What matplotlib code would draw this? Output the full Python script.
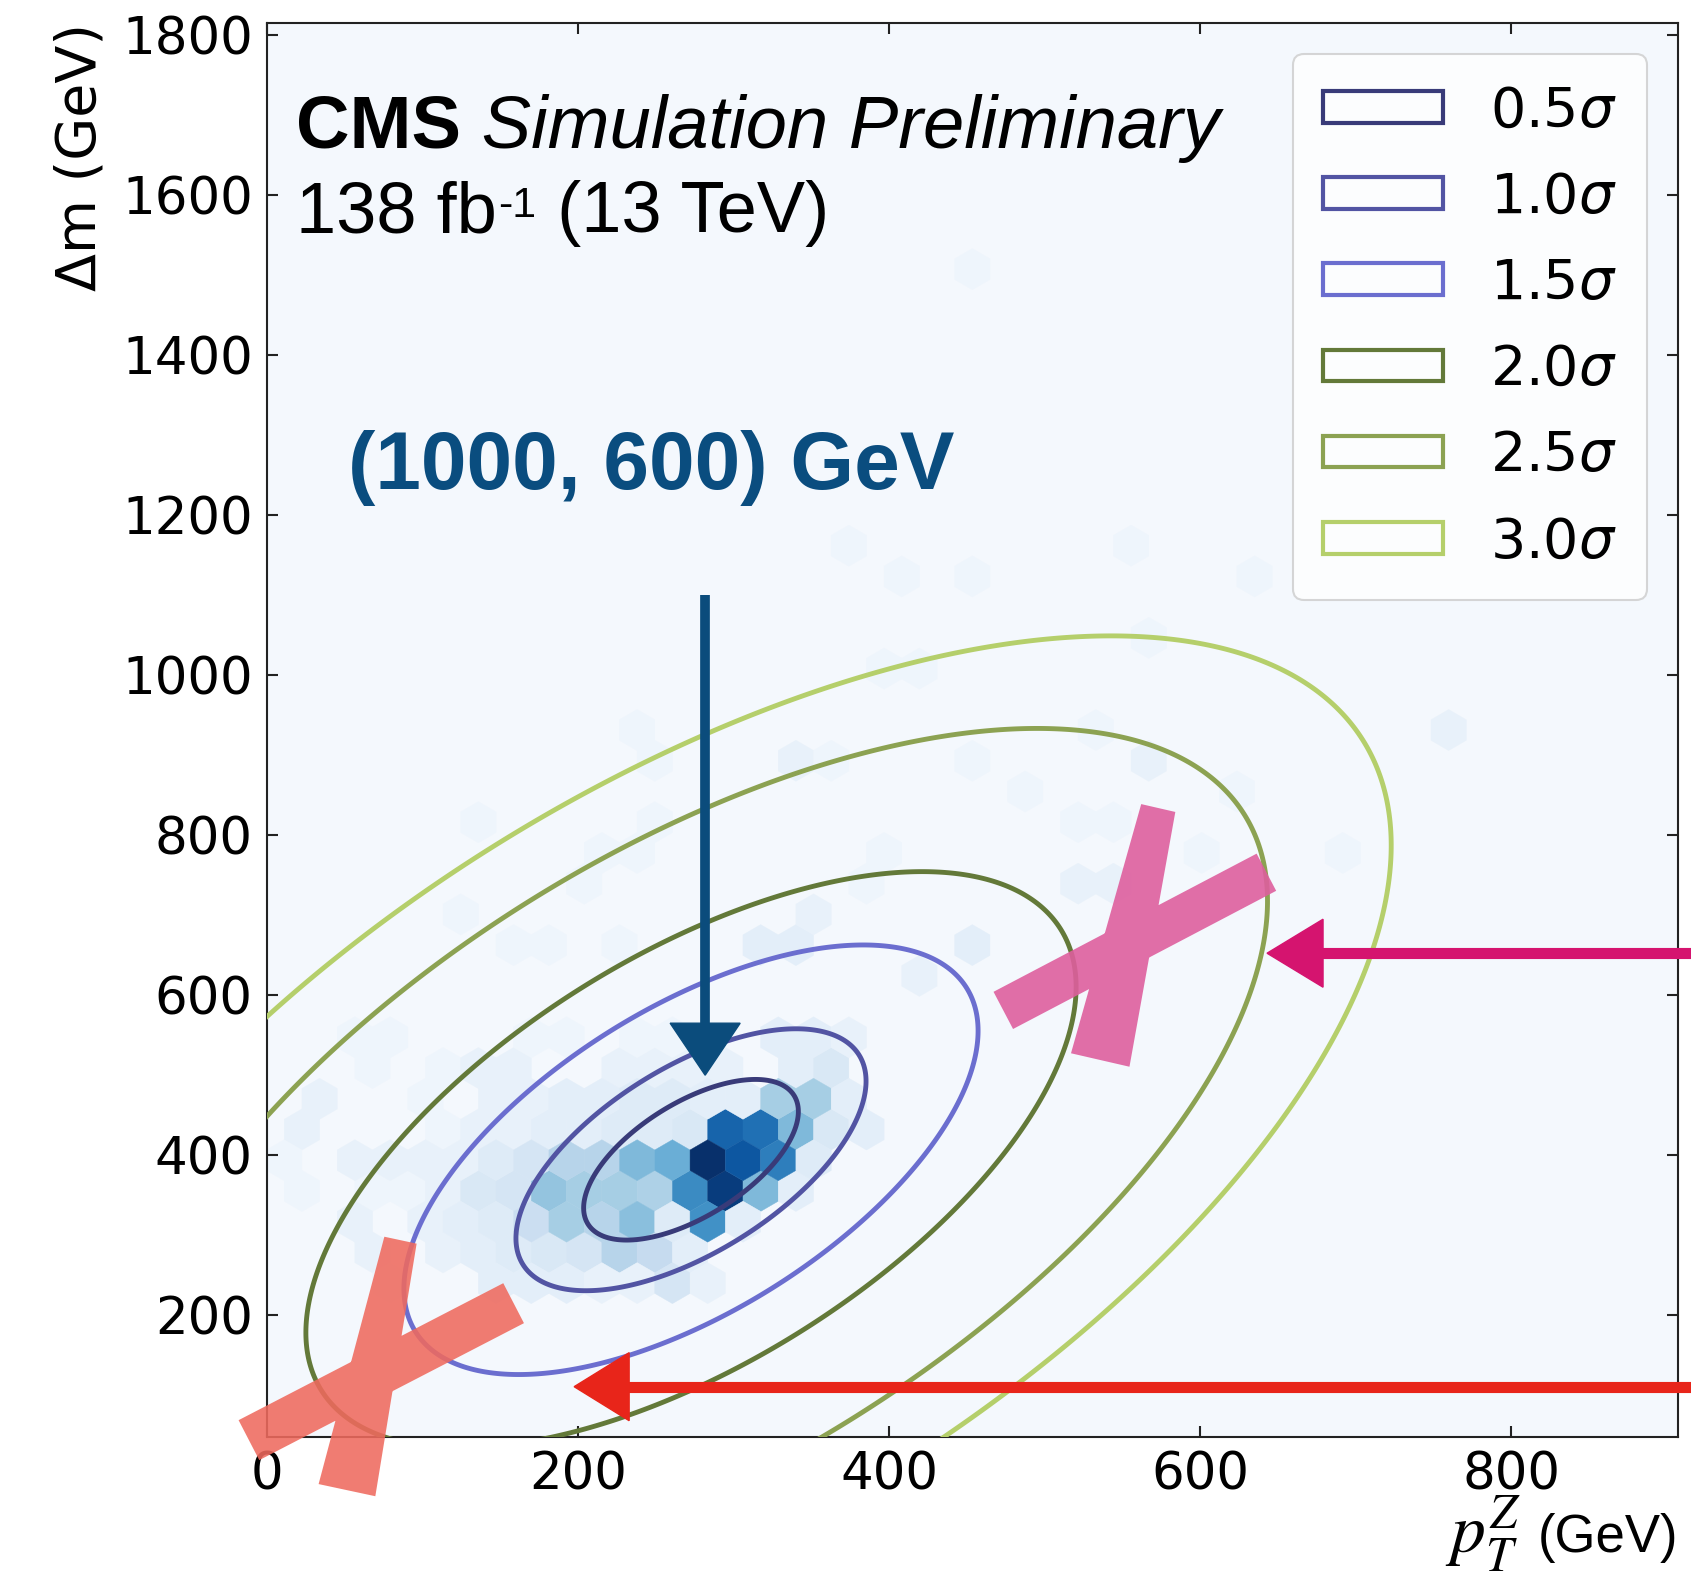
import numpy as np
import matplotlib
matplotlib.use("Agg")
import matplotlib.pyplot as plt
from matplotlib.patches import Patch, PathPatch, Polygon
from matplotlib.path import Path
from matplotlib.font_manager import FontProperties

# signal sample (1000, 600) GeV: occupied hexbin cells (pT^Z, dm, entries)
hex_pt = [147.4, 170.0, 192.7, 215.4, 238.1, 260.8, 283.4, 79.4,
          68.0, 113.4, 136.0, 158.7, 181.4, 204.1, 226.8, 249.4, 272.1,
          56.7, 102.0, 124.7, 147.4, 170.0, 192.7, 215.4, 238.1, 260.8, 283.4, 306.1,
          22.7, 68.0, 90.7, 113.4, 136.0, 158.7, 181.4, 204.1, 226.8, 249.4, 272.1, 294.8, 317.5, 340.1,
          11.3, 56.7, 79.4, 102.0, 124.7, 147.4, 170.0, 192.7, 215.4, 238.1, 260.8, 283.4, 306.1, 328.8, 351.5,
          13.0, 113.4, 136.0, 158.7, 181.4, 204.1, 226.8, 249.4, 272.1, 294.8, 317.5, 340.1, 362.8, 385.5,
          34.0, 102.0, 147.4, 170.0, 192.7, 215.4, 238.1, 260.8, 283.4, 306.1, 328.8, 351.5, 374.2,
          68.0, 113.4, 136.0, 158.7, 226.8, 249.4, 272.1, 294.8, 340.1, 362.8,
          56.7, 79.4, 170.0, 192.7, 238.1, 260.8, 328.8, 351.5, 374.2,
          428, 362, 135, 164, 187, 233, 325, 348, 460,
          210, 245, 394, 396, 512, 534, 591, 684, 213,
          141, 245, 522, 539, 233, 245, 348, 336, 360,
          453, 488, 568, 626, 534, 765, 567, 395, 419,
          406, 637, 463, 383, 546, 452]
hex_dm = [240.0, 240.0, 240.0, 240.0, 240.0, 240.0, 240.0, 240.0,
          278.5, 278.5, 278.5, 278.5, 278.5, 278.5, 278.5, 278.5, 278.5,
          317.0, 317.0, 317.0, 317.0, 317.0, 317.0, 317.0, 317.0, 317.0, 317.0, 317.0,
          355.3, 355.3, 355.3, 355.3, 355.3, 355.3, 355.3, 355.3, 355.3, 355.3, 355.3, 355.3, 355.3, 355.3,
          393.7, 393.7, 393.7, 393.7, 393.7, 393.7, 393.7, 393.7, 393.7, 393.7, 393.7, 393.7, 393.7, 393.7, 393.7,
          423.0, 432.2, 432.2, 432.2, 432.2, 432.2, 432.2, 432.2, 432.2, 432.2, 432.2, 432.2, 432.2, 432.2,
          470.5, 470.5, 470.5, 470.5, 470.5, 470.5, 470.5, 470.5, 470.5, 470.5, 470.5, 470.5, 470.5,
          509.0, 509.0, 509.0, 509.0, 509.0, 509.0, 509.0, 509.0, 509.0, 509.0,
          547.4, 547.4, 547.4, 547.4, 547.4, 547.4, 547.4, 547.4, 547.4,
          627, 698, 698, 662, 662, 662, 662, 662, 662,
          729, 765, 729, 798, 731, 731, 765, 765, 765,
          800, 831, 831, 799, 934, 898, 880, 898, 898,
          900, 867, 900, 867, 936, 934, 1036, 1003, 1003,
          1105, 1105, 1138, 1174, 1174, 1517]
hex_n = [4, 4, 4, 3, 3, 7, 3, 2,
         3, 3, 4, 5, 6, 7, 12, 10, 4,
         3, 3, 4, 5, 9, 14, 12, 17, 5, 25, 4,
         2, 2, 2, 3, 6, 7, 16, 14, 14, 13, 26, 38, 18, 4,
         2, 3, 3, 3, 3, 5, 7, 12, 12, 18, 20, 40, 34, 28, 5,
         3, 2, 3, 3, 4, 4, 5, 5, 6, 32, 30, 18, 6, 4,
         3, 2, 3, 3, 4, 4, 5, 5, 4, 4, 14, 14, 4,
         2, 2, 3, 3, 3, 3, 3, 3, 4, 6,
         2, 2, 2, 2, 2, 2, 4, 4, 3,
         3, 3, 2, 2, 2, 2, 4, 4, 4,
         2, 2, 2, 2, 3, 3, 2, 2, 2,
         2, 2, 2, 2, 2, 2, 3, 2, 2,
         2, 2, 3, 2, 2, 3, 2, 2, 2,
         2, 2, 2, 2, 2, 2]

# 2D gaussian fit to the same sample
fit_mean = (272.7, 394.3)
fit_sd = (150.0, 218.3)
fit_rho = 0.60
sigma_labels = ["0.5", "1.0", "1.5", "2.0", "2.5", "3.0"]
contour_r = [0.46, 0.75, 1.23, 1.65, 2.47, 3.0]
contour_colors = ["#393b79", "#5254a3", "#6b6ecf", "#637939", "#8ca252", "#b5cf6b"]

pt_ticks = [0, 200, 400, 600, 800]
dm_ticks = [200, 400, 600, 800, 1000, 1200, 1400, 1600, 1800]
pt_range = (0, 907)
dm_range = (48, 1815)

fig = plt.figure(figsize=(16.91, 15.86), dpi=100)
ax = fig.add_axes([0.1577, 0.0941, 0.8346, 0.8912])
ax.set_facecolor("#f4f8fd")

ax.hexbin(hex_pt, hex_dm, C=hex_n, gridsize=(40, 23),
          extent=(pt_range[0], pt_range[1], dm_range[0], dm_range[1]),
          reduce_C_function=np.max, cmap="Blues", vmin=0, vmax=40,
          edgecolors="face", linewidths=0.3, zorder=1)

gx = np.linspace(-80, 980, 800)
gy = np.linspace(-120, 1900, 1000)
GX, GY = np.meshgrid(gx, gy)
zx = (GX - fit_mean[0]) / fit_sd[0]
zy = (GY - fit_mean[1]) / fit_sd[1]
dist = np.sqrt((zx ** 2 - 2 * fit_rho * zx * zy + zy ** 2) / (1 - fit_rho ** 2))
ax.contour(GX, GY, dist, levels=contour_r, colors=contour_colors,
           linewidths=3.5, zorder=3)

ax.set_xlim(*pt_range)
ax.set_ylim(*dm_range)
ax.set_xticks(pt_ticks)
ax.set_yticks(dm_ticks)
ax.tick_params(direction="in", length=7.7, width=1.5, top=True, right=True,
               labelsize=37, pad=10, color="#222222")
for s in ax.spines.values():
    s.set_linewidth(1.5)
    s.set_color("#222222")

ax.set_ylabel("Δm (GeV)", loc="top", fontsize=40)
ax.yaxis.set_label_coords(-0.113, 1.0)
xl = ax.set_xlabel("(GeV)", loc="right", fontsize=38, family="Liberation Sans")
ax.xaxis.set_label_coords(1.0, -0.054)
# variable symbol set larger than the unit, placed just left of it
ax.annotate(r"$p_T^Z$", xy=(0, 0.2), xycoords=xl, xytext=(-12, 0),
            textcoords="offset points", ha="right", va="baseline",
            fontsize=50, math_fontfamily="stix")

handles = [Patch(facecolor="none", edgecolor=c, linewidth=3) for c in contour_colors]
labels = [s + r"$\sigma$" for s in sigma_labels]
leg = ax.legend(handles, labels, loc="upper right",
                prop=FontProperties(family="DejaVu Sans", size=40,
                                    math_fontfamily="dejavusans"),
                handlelength=2.15, handleheight=0.5, handletextpad=0.85,
                labelspacing=0.58, borderpad=0.55, borderaxespad=0.55,
                framealpha=0.8, edgecolor="#cccccc", fancybox=True)
leg.get_frame().set_linewidth(1.5)
leg.set_zorder(8)

cms = ax.text(0.0208, 0.9118, "CMS", transform=ax.transAxes, fontsize=53.5,
              family="Liberation Sans", weight="bold", va="baseline", zorder=7)
ax.annotate(" Simulation Preliminary", xy=(1, 0), xycoords=cms, va="bottom",
            fontsize=53.5, family="Liberation Sans", style="italic", zorder=7)

# luminosity label with a small raised "-1"
lumi = ax.text(0.021, 0.8523, "138 fb", transform=ax.transAxes, fontsize=52,
               family="Liberation Sans", va="baseline", zorder=7)
sup = ax.annotate("-1", xy=(1, 1), xycoords=lumi, xytext=(1, -4),
                  textcoords="offset points", va="top", fontsize=31,
                  family="Liberation Sans", zorder=7)
ax.annotate(" (13 TeV)", xy=(1, 0), xycoords=(sup, lumi), va="bottom",
            fontsize=52, family="Liberation Sans", zorder=7)

ax.text(52.3, 1232.5, "(1000, 600) GeV", fontsize=59, family="Liberation Sans",
        weight="bold", color="#0a4d7f", va="baseline", zorder=7)


def to_px(p):
    return ax.transData.transform(np.asarray(p, float))


def from_px(p):
    return ax.transData.inverted().transform(np.asarray(p, float))


def stroke(p0, p1, w0, w1):
    # quad around p0-p1, end widths in pixels
    a, b = to_px([p0, p1])
    d = (b - a) / np.hypot(*(b - a))
    n = np.array([-d[1], d[0]])
    return from_px([a + n * w0 / 2, b + n * w1 / 2, b - n * w1 / 2, a - n * w0 / 2])


def cross(strokes, color, alpha):
    verts, codes = [], []
    for q in strokes:
        verts += list(q) + [q[0]]
        codes += [Path.MOVETO] + [Path.LINETO] * 3 + [Path.CLOSEPOLY]
    ax.add_patch(PathPatch(Path(verts, codes), facecolor=color, edgecolor="none",
                           alpha=alpha, clip_on=False, zorder=5))


def arrow(tail, tip, head_len, head_w, color, lw):
    a, b = to_px([tail, tip])
    d = (b - a) / np.hypot(*(b - a))
    n = np.array([-d[1], d[0]])
    base = b - d * head_len
    shaft = from_px([a, base + d * 4])
    ax.plot(shaft[:, 0], shaft[:, 1], color=color, lw=lw,
            solid_capstyle="butt", clip_on=False, zorder=6)
    head = from_px([b, base + n * head_w / 2, base - n * head_w / 2])
    ax.add_patch(Polygon(head, closed=True, facecolor=color, edgecolor=color,
                         lw=1, clip_on=False, zorder=6))


cross([stroke((-11.4, 43.75), (158.7, 215), 45, 45),
       stroke((86, 293.75), (51.6, -18.75), 33, 58)], "#ef6a5e", 0.88)
cross([stroke((473.4, 581), (642.5, 753.75), 42, 42),
       stroke((573, 834), (535.7, 519), 35, 60)], "#de5f9e", 0.9)

arrow((915.7, 110.6), (197.6, 110.6), 55, 68, "#e8251a", 8.0)
arrow((915.7, 652.5), (642.9, 652.5), 56, 68, "#d5146f", 8.0)
arrow((281.8, 1100.6), (281.8, 500), 52, 70, "#0b4c7c", 7.0)

fig.savefig("out.png", dpi=100)
